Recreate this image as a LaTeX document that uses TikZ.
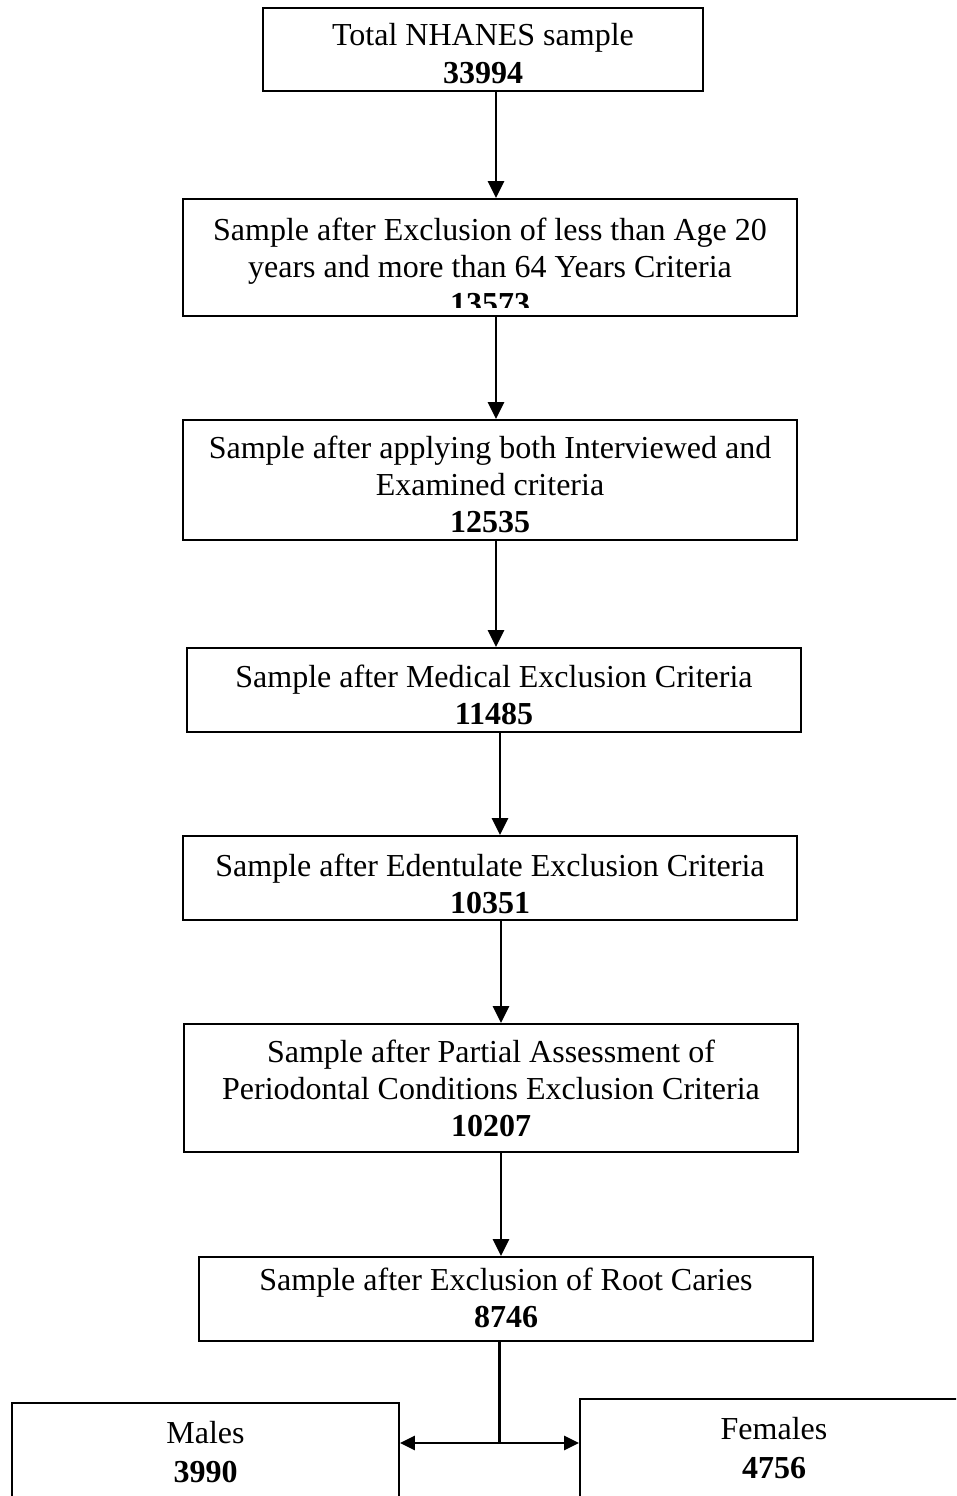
\documentclass[tikz,border=0pt]{standalone}
\usepackage{fontspec}
\setmainfont{Liberation Serif}
\usetikzlibrary{arrows.meta}

\tikzset{
  frame/.style={draw, line width=1.8pt, inner sep=0pt},
  txt/.style={anchor=base, inner sep=0pt, font=\fontsize{32}{37}\selectfont},
  num/.style={txt, font=\fontsize{32}{37}\selectfont\bfseries},
  flow/.style={-{Triangle[length=17pt,width=16pt]}, line width=2.6pt},
  side/.style={-{Triangle[length=15pt,width=14pt]}, line width=2.6pt},
  stem/.style={line width=2.2pt}
}

\begin{document}
\begin{tikzpicture}[x=1pt, y=-1pt]
\useasboundingbox (0,0) rectangle (956,1496);
\clip (0,0) rectangle (956,1496);

% frames of the flow chart boxes
\node[frame, minimum width=440pt, minimum height=83pt]  (b1) at (483,49.5) {};
\node[frame, minimum width=614pt, minimum height=117pt] (b2) at (490,257.5) {};
\node[frame, minimum width=614pt, minimum height=120pt] (b3) at (490,480) {};
\node[frame, minimum width=614pt, minimum height=84pt]  (b4) at (494,690) {};
\node[frame, minimum width=614pt, minimum height=84pt]  (b5) at (490,878) {};
\node[frame, minimum width=614pt, minimum height=128pt] (b6) at (491,1088) {};
\node[frame, minimum width=614pt, minimum height=84pt]  (b7) at (506,1299) {};
\node[frame, minimum width=387pt, minimum height=117pt] (males) at (205.5,1461.5) {};
\node[frame, minimum width=400pt, minimum height=121pt] (females) at (780,1459.5) {};

% box texts
\node[txt] (t1a) at (483,46) {Total NHANES sample};
\node[num] (t1b) at (483,83) {33994};

\begin{scope}
  \clip (b2.north west) rectangle ([yshift=9pt]b2.south east);
  \node[txt] (t2a) at (490,240) {Sample after Exclusion of less than Age 20};
  \node[txt] (t2b) at (490,277) {years and more than 64 Years Criteria};
  \node[num] (t2c) at (490,314) {13573};
\end{scope}

\node[txt] (t3a) at (490,458) {Sample after applying both Interviewed and};
\node[txt] (t3b) at (490,495) {Examined criteria};
\node[num] (t3c) at (490,532) {12535};

\node[txt] (t4a) at (494,687) {Sample after Medical Exclusion Criteria};
\node[num] (t4b) at (494,724) {11485};

\node[txt] (t5a) at (490,876) {Sample after Edentulate Exclusion Criteria};
\node[num] (t5b) at (490,913) {10351};

\node[txt] (t6a) at (491,1062) {Sample after Partial Assessment of};
\node[txt] (t6b) at (491,1099) {Periodontal Conditions Exclusion Criteria};
\node[num] (t6c) at (491,1136) {10207};

\node[txt] (t7a) at (506,1290) {Sample after Exclusion of Root Caries};
\node[num] (t7b) at (506,1327) {8746};

\node[txt] (t8a) at (205.5,1443) {Males};
\node[num] (t8b) at (205.5,1482) {3990};

\node[txt] (t9a) at (774,1439) {Females};
\node[num] (t9b) at (774,1478) {4756};

% connectors
\draw[flow] ([xshift=13pt]b1.south) -- ([xshift=13pt]b1.south |- b2.north);
\draw[flow] ([xshift=6pt]b2.south)  -- ([xshift=6pt]b2.south |- b3.north);
\draw[flow] ([xshift=6pt]b3.south)  -- ([xshift=6pt]b3.south |- b4.north);
\draw[flow] ([xshift=6pt]b4.south)  -- ([xshift=6pt]b4.south |- b5.north);
\draw[flow] ([xshift=11pt]b5.south) -- ([xshift=11pt]b5.south |- b6.north);
\draw[flow] ([xshift=10pt]b6.south) -- ([xshift=10pt]b6.south |- b7.north);

\coordinate (split) at ([xshift=-6.5pt]b7.south |- 0,1443);
\draw[stem] ([xshift=-6.5pt]b7.south) -- (split);
\draw[side] (split) -- (split -| males.east);
\draw[side] (split) -- (split -| females.west);
\end{tikzpicture}
\end{document}
